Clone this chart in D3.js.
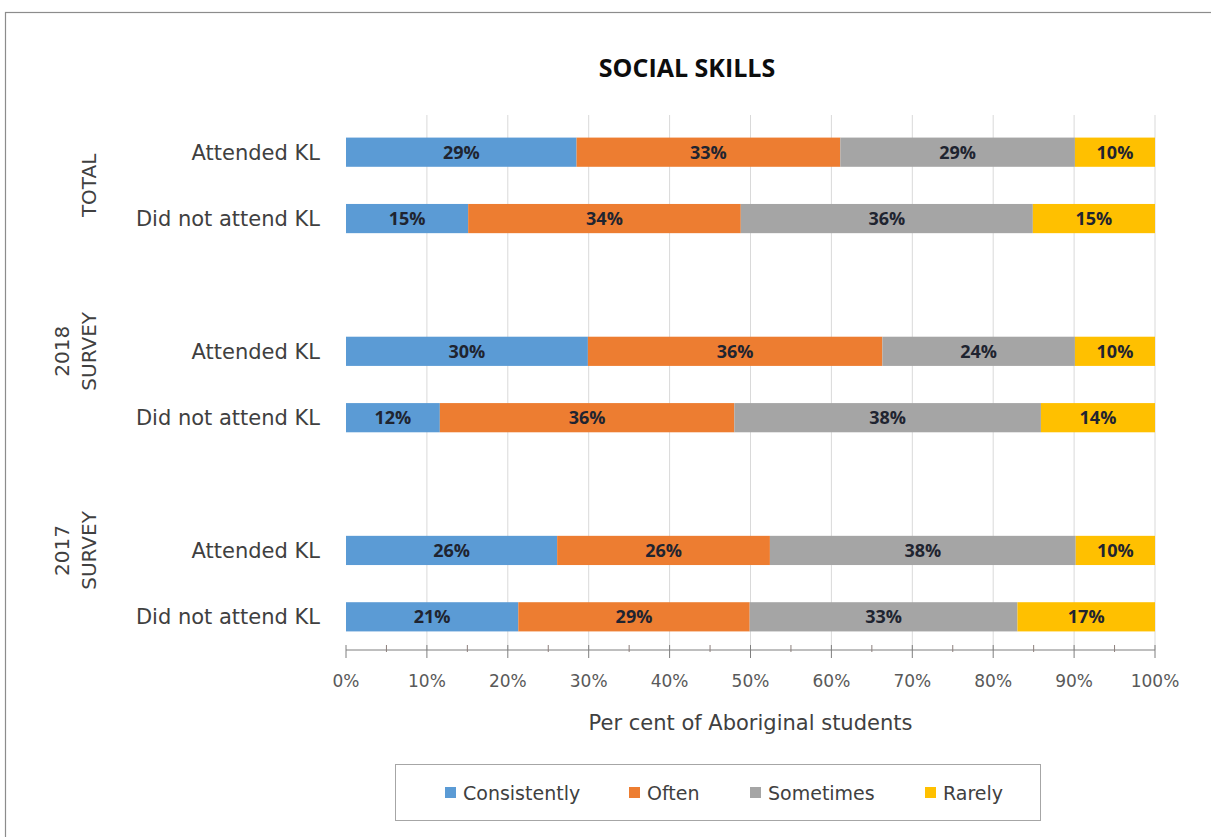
<!DOCTYPE html>
<html>
<head>
<meta charset="utf-8">
<script src="https://cdn.jsdelivr.net/npm/d3@7"></script>
<style>
  body { margin: 0; background: #fff; }
  svg { font-family: "DejaVu Sans", sans-serif; }
</style>
</head>
<body>
<div id="wrapper"></div>
<script>
/* data */
const rows = ["tA", "tD", "gap1", "a18", "d18", "gap2", "a17", "d17"];
const rowLabels = ["Attended KL", "Did not attend KL", "", "Attended KL", "Did not attend KL", "", "Attended KL", "Did not attend KL"];
const series = ["Consistently", "Often", "Sometimes", "Rarely"];
const consistently = [28.5, 15.1, null, 29.9, 11.6, null, 26.1, 21.3];
const often        = [32.6, 33.7, null, 36.4, 36.4, null, 26.3, 28.6];
const sometimes    = [29.0, 36.1, null, 23.8, 37.9, null, 37.8, 33.1];
const rarely       = [ 9.9, 15.1, null,  9.9, 14.1, null,  9.8, 17.0];
const groups = [["TOTAL"], ["2018", "SURVEY"], ["2017", "SURVEY"]];
const groupRows = [["tA", "tD"], ["a18", "d18"], ["a17", "d17"]];
const xTicks = [0, 10, 20, 30, 40, 50, 60, 70, 80, 90, 100];
const colors = ["#5B9BD5", "#ED7D31", "#A5A5A5", "#FFC000"];

/* dimensions */
const dims = {
  width: 1211, height: 837,
  margin: { top: 119, left: 346, right: 56, bottom: 187 }
};
dims.boundedWidth = dims.width - dims.margin.left - dims.margin.right;
dims.boundedHeight = dims.height - dims.margin.top - dims.margin.bottom;

const svg = d3.select("#wrapper").append("svg")
  .attr("width", dims.width)
  .attr("height", dims.height);

// chart frame
svg.append("rect")
  .attr("x", 5.5).attr("y", 12.5)
  .attr("width", 1220).attr("height", 840)
  .attr("fill", "none").attr("stroke", "#8c8c8c").attr("stroke-width", 1.2);

svg.append("text")
  .attr("x", 687).attr("y", 77)
  .attr("text-anchor", "middle")
  .style("font-family", "'Open Sans', sans-serif")
  .style("font-size", "25px").style("font-weight", "bold").attr("fill", "#0d0d0d")
  .text("SOCIAL SKILLS");

const bounds = svg.append("g")
  .attr("transform", `translate(${dims.margin.left},${dims.margin.top})`);

/* scales */
const x = d3.scaleLinear().domain([0, 100]).range([0, dims.boundedWidth]);
const y = d3.scaleBand().domain(rows).range([0, dims.boundedHeight]).paddingInner(0.56).paddingOuter(0.28);

// gridlines
bounds.append("g").selectAll("line")
  .data(xTicks.slice(1))
  .join("line")
  .attr("x1", d => x(d)).attr("x2", d => x(d))
  .attr("y1", -4).attr("y2", dims.boundedHeight)
  .attr("stroke", "#d9d9d9").attr("stroke-width", 1);

/* stacked bars */
const table = rows.map((r, i) => ({
  key: r,
  Consistently: consistently[i], Often: often[i], Sometimes: sometimes[i], Rarely: rarely[i]
})).filter(d => d.Consistently != null);

const stack = d3.stack().keys(series)(table);

const layers = bounds.selectAll("g.layer")
  .data(stack)
  .join("g")
  .attr("class", "layer")
  .attr("fill", (d, i) => colors[i]);

layers.selectAll("rect")
  .data(d => d)
  .join("rect")
  .attr("x", d => x(d[0]))
  .attr("width", d => x(d[1]) - x(d[0]))
  .attr("y", d => y(d.data.key))
  .attr("height", y.bandwidth());

layers.selectAll("text")
  .data(d => d)
  .join("text")
  .attr("x", d => (x(d[0]) + x(d[1])) / 2)
  .attr("y", d => y(d.data.key) + y.bandwidth() / 2)
  .attr("dy", "0.36em")
  .attr("text-anchor", "middle")
  .attr("fill", "#1f2430")
  .style("font-family", "'Open Sans', sans-serif")
  .style("font-size", "18px").style("font-weight", "bold")
  .text(d => Math.round(d[1] - d[0]) + "%");

/* x axis */
const axis = bounds.append("g")
  .attr("transform", `translate(0,${dims.boundedHeight})`);
axis.append("line")
  .attr("x1", 0).attr("x2", dims.boundedWidth)
  .attr("stroke", "#7f7f7f");
axis.selectAll("line.major")
  .data(xTicks).join("line").attr("class", "major")
  .attr("x1", d => x(d)).attr("x2", d => x(d))
  .attr("y1", -5).attr("y2", 8)
  .attr("stroke", "#7f7f7f");
axis.selectAll("line.minor")
  .data(xTicks.slice(1).map(d => d - 5)).join("line").attr("class", "minor")
  .attr("x1", d => x(d)).attr("x2", d => x(d))
  .attr("y1", -5).attr("y2", 2)
  .attr("stroke", "#8c7f7c");
axis.selectAll("text.tick")
  .data(xTicks).join("text").attr("class", "tick")
  .attr("x", d => x(d)).attr("y", 37)
  .attr("text-anchor", "middle")
  .attr("fill", "#595959")
  .style("font-size", "17px")
  .text(d => d + "%");
axis.append("text")
  .attr("x", dims.boundedWidth / 2).attr("y", 80)
  .attr("text-anchor", "middle")
  .attr("fill", "#404040")
  .style("font-size", "21px")
  .text("Per cent of Aboriginal students");

/* category labels */
bounds.append("g").selectAll("text")
  .data(rows.map((r, i) => [r, rowLabels[i]]).filter(d => d[1]))
  .join("text")
  .attr("x", -26)
  .attr("y", d => y(d[0]) + y.bandwidth() / 2)
  .attr("dy", "0.36em")
  .attr("text-anchor", "end")
  .attr("fill", "#404040")
  .style("font-size", "21px")
  .text(d => d[1]);

/* group labels, rotated */
groups.forEach((lines, gi) => {
  const top = y(groupRows[gi][0]);
  const bottom = y(groupRows[gi][1]) + y.bandwidth();
  const cy = gi === 0 ? (top + bottom) / 2 : top + y.bandwidth() / 2;
  const t = bounds.append("text")
    .attr("transform", `translate(${-257 - (lines.length - 1) * 27},${cy}) rotate(-90)`)
    .attr("text-anchor", "middle")
    .attr("fill", "#404040")
    .style("font-size", "20px");
  lines.forEach((l, li) => {
    t.append("tspan").attr("x", 0).attr("dy", li === 0 ? "0.36em" : "1.35em").text(l);
  });
});

/* legend */
const legend = svg.append("g");
legend.append("rect")
  .attr("x", 395.5).attr("y", 764.5)
  .attr("width", 645).attr("height", 56)
  .attr("fill", "none").attr("stroke", "#a6a6a6");
const legendX = [445, 629, 750, 925];
const items = legend.selectAll("g.item")
  .data(series).join("g").attr("class", "item")
  .attr("transform", (d, i) => `translate(${legendX[i]},793)`);
items.append("rect")
  .attr("x", 0).attr("y", -6).attr("width", 11).attr("height", 11)
  .attr("fill", (d, i) => colors[i]);
items.append("text")
  .attr("x", 18).attr("dy", "0.36em")
  .attr("fill", "#404040")
  .style("font-size", "19px")
  .text(d => d);
</script>
</body>
</html>
